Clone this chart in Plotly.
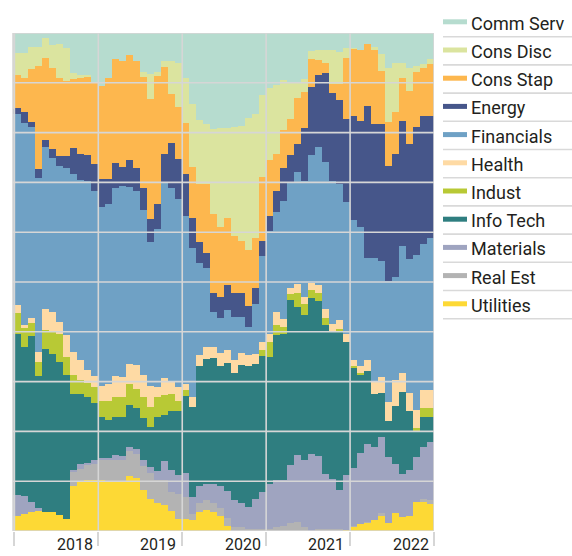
import plotly.graph_objects as go

# ---- data (percent weights, monthly, Dec 2017 .. Dec 2022) ----
months = ["2017-12"] + [f"{y}-{m:02d}" for y in range(2018, 2023) for m in range(1, 13)]
years = ["2018", "2019", "2020", "2021", "2022"]

comm_serv = [4.0, 4.1, 4.1, 2.9, 2.8, 1.1, 2.4, 2.2, 3.0, 8.1, 8.4, 8.5, 10.0, 10.6, 9.1, 5.3, 5.6, 4.4, 5.6, 7.9,
             8.2, 7.8, 5.6, 5.6, 6.0, 9.1, 14.3, 17.4, 18.2, 19.3, 19.1, 19.0, 18.8, 18.6, 17.1, 16.3, 12.4, 11.0, 10.5, 9.4,
             9.8, 9.8, 9.2, 3.7, 3.4, 3.4, 3.5, 3.8, 3.0, 3.0, 3.4, 2.3, 2.9, 4.3, 7.0, 6.0, 6.1, 7.0, 6.6, 6.2, 5.3]
cons_disc = [4.2, 4.3, 5.0, 4.3, 3.8, 4.0, 4.7, 6.9, 6.6, 1.2, 0.7, 0.3, 0.0, 0.0, 0.0, 0.0, 0.0, 0.0, 0.0, 1.0,
             5.1, 0.8, 1.2, 6.7, 8.8, 8.9, 12.7, 12.9, 12.2, 17.1, 19.8, 18.2, 22.0, 23.2, 26.5, 24.8, 16.5, 14.5, 13.7, 10.1,
             7.4, 3.2, 2.6, 1.5, 2.1, 2.6, 6.7, 6.4, 2.0, 0.1, 0.0, 0.0, 0.5, 3.3, 10.8, 9.8, 3.0, 4.6, 1.2, 0.8, 1.0]
cons_stap = [7.0, 6.7, 6.7, 10.6, 20.8, 16.3, 16.2, 15.5, 15.0, 13.8, 15.1, 15.6, 16.3, 18.7, 20.3, 20.8, 21.4, 21.2, 21.5, 22.2,
             24.1, 25.8, 17.5, 9.8, 10.5, 10.4, 10.1, 11.6, 13.7, 15.8, 14.1, 13.5, 11.4, 10.4, 11.3, 10.2, 12.9, 11.2, 7.6, 7.7,
             7.3, 9.2, 7.2, 5.6, 3.0, 2.0, 1.9, 3.3, 12.2, 13.5, 14.2, 12.3, 14.9, 10.6, 9.0, 8.5, 8.5, 10.7, 11.0, 9.6, 10.3]
energy = [1.1, 1.2, 2.3, 1.0, 1.7, 1.5, 1.8, 2.2, 2.5, 5.3, 5.4, 5.4, 5.5, 5.6, 5.0, 5.0, 3.8, 5.4, 4.7, 4.5,
          4.6, 5.0, 5.8, 9.0, 8.1, 8.4, 6.0, 4.2, 3.1, 3.8, 4.2, 5.0, 4.8, 4.8, 4.1, 3.2, 3.0, 3.1, 4.2, 6.5,
          5.5, 5.8, 10.8, 13.6, 14.3, 18.0, 17.7, 16.8, 16.8, 21.0, 21.4, 30.5, 26.8, 27.6, 23.0, 24.7, 25.2, 23.1, 25.8, 25.7, 24.6]
financials = [38.4, 38.4, 40.5, 38.4, 35.0, 32.6, 31.0, 31.2, 33.6, 35.7, 36.1, 37.8, 37.1, 36.0, 36.1, 37.8, 38.3, 35.5, 34.9, 33.1,
              28.9, 31.7, 39.1, 39.0, 37.7, 33.6, 29.9, 18.6, 15.9, 7.1, 7.1, 8.0, 8.7, 7.2, 5.7, 10.0, 17.2, 20.6, 20.0, 23.7,
              21.3, 22.5, 23.2, 25.9, 27.9, 29.4, 28.7, 27.4, 26.5, 28.1, 27.9, 20.5, 25.0, 23.3, 24.3, 20.7, 25.5, 26.9, 31.2, 29.3, 30.5]
health = [1.5, 1.5, 0.6, 1.0, 2.0, 4.1, 3.8, 2.4, 4.4, 4.6, 4.0, 2.7, 2.2, 3.0, 3.3, 4.2, 3.9, 4.0, 4.7, 4.4,
          4.1, 2.0, 3.4, 2.3, 2.7, 1.3, 2.0, 2.2, 2.3, 2.1, 2.6, 2.6, 2.6, 2.5, 2.2, 1.9, 1.7, 1.6, 2.7, 1.6,
          1.2, 1.8, 1.5, 1.4, 1.6, 1.8, 1.3, 1.7, 1.5, 1.2, 1.4, 2.3, 2.4, 3.2, 3.8, 5.1, 3.8, 3.6, 3.6, 3.6, 3.5]
indust = [4.2, 4.2, 3.9, 2.7, 2.8, 3.8, 4.6, 5.7, 3.6, 3.7, 2.7, 2.8, 3.2, 3.3, 4.0, 4.0, 4.1, 4.1, 4.0, 4.3,
          4.1, 4.1, 4.2, 3.5, 2.1, 1.1, 0.0, 0.0, 0.0, 0.0, 0.0, 0.0, 0.0, 0.0, 0.0, 0.0, 1.2, 3.1, 2.0, 1.5,
          1.2, 2.7, 2.2, 1.6, 1.5, 1.5, 0.0, 0.4, 0.0, 0.2, 0.2, 0.0, 0.0, 0.0, 0.0, 0.0, 0.0, 0.0, 0.5, 1.9, 1.9]
info_tech = [32.4, 32.4, 29.9, 33.3, 26.5, 32.8, 31.6, 30.6, 28.8, 15.3, 14.2, 13.2, 11.4, 8.1, 7.5, 7.7, 7.8, 8.5, 8.1, 8.4,
             8.0, 10.8, 9.2, 11.8, 12.9, 15.5, 18.2, 24.1, 25.1, 25.3, 24.1, 25.7, 25.5, 27.7, 28.3, 27.2, 27.3, 25.4, 29.1, 29.3,
             33.1, 29.8, 29.1, 31.3, 31.1, 29.8, 29.7, 31.9, 26.7, 20.2, 15.8, 14.6, 10.6, 8.8, 7.2, 11.8, 16.4, 11.8, 5.2, 6.0, 5.0]
materials = [4.1, 4.1, 3.5, 2.0, 0.5, 0.0, 0.0, 0.0, 0.0, 0.4, 0.9, 0.5, 0.9, 0.5, 0.5, 0.9, 0.9, 0.9, 1.1, 1.2,
             1.2, 1.7, 3.7, 4.5, 3.7, 4.9, 3.3, 3.4, 3.3, 3.9, 4.4, 5.3, 5.4, 4.8, 4.3, 5.9, 7.3, 9.0, 9.4, 9.1,
             11.6, 13.4, 13.4, 15.3, 14.6, 11.0, 10.0, 7.8, 11.0, 11.6, 14.2, 15.7, 14.6, 15.2, 13.3, 9.7, 8.7, 9.2, 9.1, 10.5, 11.7]
real_est = [0.0, 0.0, 0.0, 0.0, 0.0, 0.0, 0.0, 0.0, 0.0, 2.9, 2.5, 3.0, 3.1, 3.9, 4.4, 4.5, 4.4, 5.0, 4.7, 4.8,
            5.3, 4.7, 5.1, 3.7, 5.0, 4.3, 1.2, 1.7, 1.9, 1.7, 1.5, 1.6, 0.8, 0.8, 0.5, 0.5, 0.5, 0.5, 0.8, 1.1,
            1.5, 1.8, 0.8, 0.1, 0.5, 0.5, 0.5, 0.5, 0.0, 0.2, 0.0, 0.1, 0.0, 0.6, 0.0, 0.0, 0.0, 0.0, 0.0, 0.6, 0.8]
utilities = [3.1, 3.1, 3.5, 3.8, 4.1, 3.8, 3.9, 3.3, 2.5, 9.0, 10.0, 10.2, 10.3, 10.3, 9.8, 9.8, 9.8, 11.0, 10.7, 8.2,
             6.4, 5.6, 5.2, 4.1, 2.5, 2.5, 2.3, 3.9, 4.3, 3.9, 3.1, 1.1, 0.0, 0.0, 0.0, 0.0, 0.0, 0.0, 0.0, 0.0,
             0.1, 0.0, 0.0, 0.0, 0.0, 0.0, 0.0, 0.0, 0.3, 0.9, 1.5, 1.7, 2.3, 3.1, 1.6, 3.7, 2.8, 3.1, 5.8, 5.8, 5.4]

# bottom-to-top stacking order
series = [
    ("Utilities", utilities, "#fdd935"),
    ("Real Est", real_est, "#b3b3b3"),
    ("Materials", materials, "#9fa4c0"),
    ("Info Tech", info_tech, "#2f7e80"),
    ("Indust", indust, "#b8c935"),
    ("Health", health, "#fedaa4"),
    ("Financials", financials, "#6fa1c5"),
    ("Energy", energy, "#46568a"),
    ("Cons Stap", cons_stap, "#fdb74e"),
    ("Cons Disc", cons_disc, "#dbe49f"),
    ("Comm Serv", comm_serv, "#b6dccf"),
]

# bar centers: Dec 2017 sits just left of the 2018 boundary (x=0)
xpos = [i - 0.5 for i in range(len(months))]

FONT = "Roboto, Liberation Sans, sans-serif"
GRID = "#d6d6d6"
TXT = "#231f20"

fig = go.Figure()
for name, vals, col in series:
    fig.add_trace(go.Bar(x=xpos, y=vals, name=name, width=1.0, marker=dict(color=col, line=dict(width=0)),
                         showlegend=False, customdata=months,
                         hovertemplate="%{customdata}: %{y:.1f}%<extra>" + name + "</extra>"))

W, H = 572, 556
ML, MR, MT, MB = 13, 138, 33, 25
PW, PH = W - ML - MR, H - MT - MB


def px_x(x):
    return (x - ML) / PW


def px_y(y):
    return (H - MB - y) / PH


shapes = []
# horizontal gridlines and frame (drawn above bars)
for v in range(0, 101, 10):
    shapes.append(dict(type="line", xref="paper", yref="y", x0=0, x1=1, y0=v, y1=v,
                       line=dict(color=GRID, width=1.6), layer="above"))
# vertical year gridlines
year_edges = [0, 12, 24, 36, 48, 60]
for xv in year_edges:
    shapes.append(dict(type="line", xref="x", yref="paper", x0=xv, x1=xv, y0=0, y1=1,
                       line=dict(color=GRID, width=1.6), layer="above"))
shapes.append(dict(type="line", xref="paper", yref="paper", x0=0, x1=0, y0=0, y1=1,
                   line=dict(color=GRID, width=1.6), layer="above"))

# custom legend (top to bottom)
annotations = []
legend_items = list(reversed(series))
for i, (name, vals, col) in enumerate(legend_items):
    yc = 23.3 + 28.2 * i
    shapes.append(dict(type="line", xref="paper", yref="paper", x0=px_x(443), x1=px_x(467),
                       y0=px_y(yc - 1.5), y1=px_y(yc - 1.5), line=dict(color=col, width=5)))
    shapes.append(dict(type="line", xref="paper", yref="paper", x0=px_x(443), x1=px_x(572),
                       y0=px_y(yc + 13.4), y1=px_y(yc + 13.4), line=dict(color="#d9d9d9", width=1.6)))
    annotations.append(dict(text=name, xref="paper", yref="paper", x=px_x(469), y=px_y(yc),
                            xanchor="left", yanchor="middle", showarrow=False,
                            font=dict(family=FONT, size=18, color=TXT)))

# year labels sit just left of each year-end boundary
label_pos = [8.7, 20.6, 32.7, 44.6, 56.7]
for yr, xp in zip(years, label_pos):
    annotations.append(dict(text=yr, xref="x", yref="paper", x=xp, y=0, yanchor="top", xanchor="center",
                            yshift=-2, showarrow=False, font=dict(family=FONT, size=16, color=TXT)))

fig.update_layout(
    width=W, height=H, margin=dict(l=ML, r=MR, t=MT, b=MB, autoexpand=False),
    barmode="stack", bargap=0, bargroupgap=0,
    plot_bgcolor="white", paper_bgcolor="white",
    showlegend=False, shapes=shapes, annotations=annotations,
    font=dict(family=FONT, color=TXT),
    xaxis=dict(range=[-0.2, 60], showgrid=False, zeroline=False, showline=False,
               tickvals=year_edges, ticks="outside", ticklen=14, tickwidth=1.6, tickcolor=GRID,
               showticklabels=False, automargin=False),
    yaxis=dict(range=[0, 100], showgrid=False, zeroline=False, showline=False,
               showticklabels=False, ticks="", automargin=False),
)

fig.write_html("out.html", config={"displayModeBar": False},
               post_script="document.body.style.margin='0';document.body.style.overflow='hidden';")
